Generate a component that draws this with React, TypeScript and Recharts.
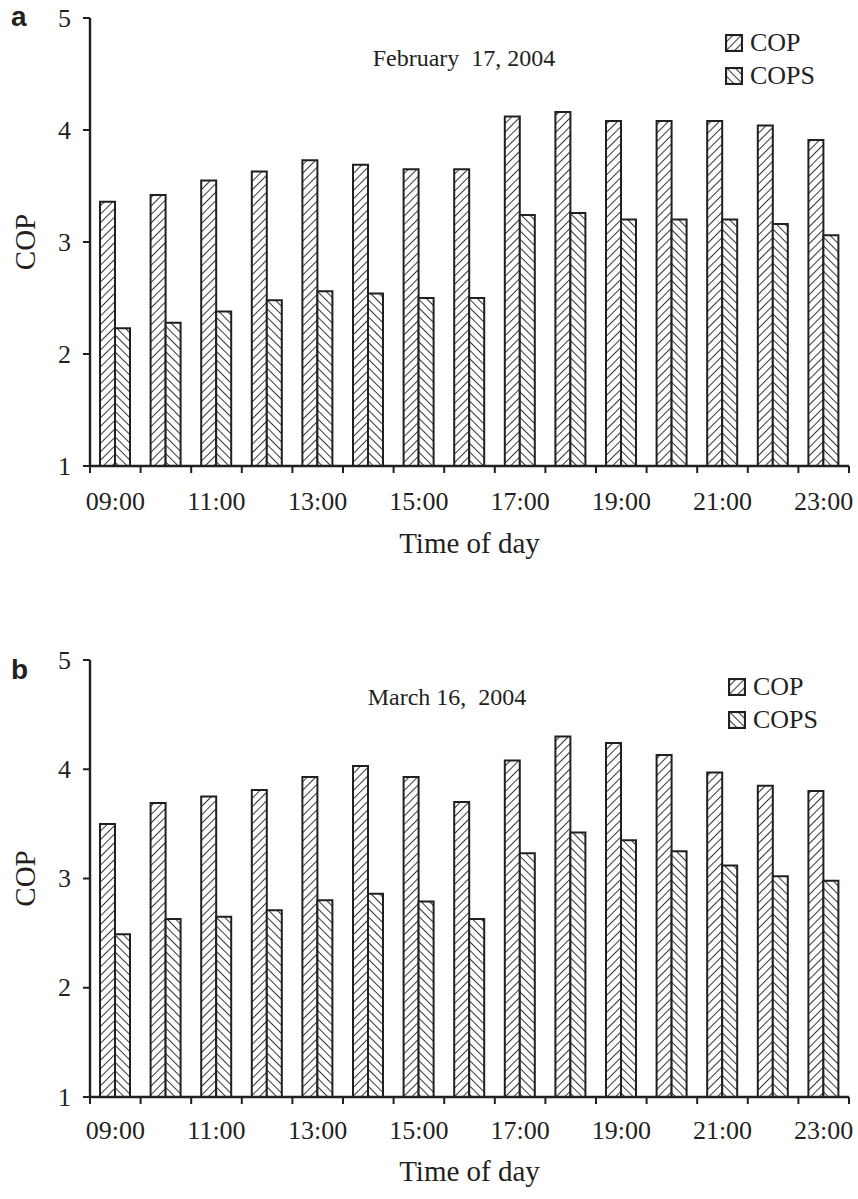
import React from 'react';
import { BarChart, Bar, XAxis, YAxis, Legend } from 'recharts';

const hours = [
  '09:00', '10:00', '11:00', '12:00', '13:00', '14:00', '15:00', '16:00',
  '17:00', '18:00', '19:00', '20:00', '21:00', '22:00', '23:00',
];
const yTicks = [1, 2, 3, 4, 5];

// panel a – February 17, 2004
const febCop = [3.36, 3.42, 3.55, 3.63, 3.73, 3.69, 3.65, 3.65, 4.12, 4.16, 4.08, 4.08, 4.08, 4.04, 3.91];
const febCops = [2.23, 2.28, 2.38, 2.48, 2.56, 2.54, 2.5, 2.5, 3.24, 3.26, 3.2, 3.2, 3.2, 3.16, 3.06];

// panel b – March 16, 2004
const marCop = [3.5, 3.69, 3.75, 3.81, 3.93, 4.03, 3.93, 3.7, 4.08, 4.3, 4.24, 4.13, 3.97, 3.85, 3.8];
const marCops = [2.49, 2.63, 2.65, 2.71, 2.8, 2.86, 2.79, 2.63, 3.23, 3.42, 3.35, 3.25, 3.12, 3.02, 2.98];

const INK = '#231f20';
const SERIF = '"Liberation Serif", "Times New Roman", serif';
const WIDTH = 858;
const LEFT = 90;
const RIGHT = 9;

const Hatch = ({ id, angle }: { id: string; angle: number }) => (
  <pattern id={id} width={6} height={6} patternUnits="userSpaceOnUse" patternTransform={`rotate(${angle})`}>
    <rect width={6} height={6} fill="#fff" />
    <line x1={0} y1={0} x2={0} y2={6} stroke={INK} strokeWidth={1.8} />
  </pattern>
);

const makeTick = (labelDy: number) => (props: any) => {
  const { x, y, payload, index } = props;
  const half = payload && payload.offset ? payload.offset : (WIDTH - LEFT - RIGHT) / hours.length / 2;
  const last = index === hours.length - 1;
  return (
    <g>
      <line x1={x - half} y1={y} x2={x - half} y2={y + 7} stroke={INK} strokeWidth={2} />
      {last && <line x1={x + half} y1={y} x2={x + half} y2={y + 7} stroke={INK} strokeWidth={2} />}
      {index % 2 === 0 && (
        <text x={x} y={y + labelDy} textAnchor="middle" fontSize={26} fontFamily={SERIF} fill={INK}>
          {payload.value}
        </text>
      )}
    </g>
  );
};

const YTick = (props: any) => {
  const { x, y, payload } = props;
  return (
    <text x={x} y={y} textAnchor="end" dominantBaseline="central" fontSize={26} fontFamily={SERIF} fill={INK}>
      {payload.value}
    </text>
  );
};

type PanelProps = {
  letter: string;
  title: string;
  titleX: number;
  titleY: number;
  cop: number[];
  cops: number[];
  top: number;
  height: number;
  marginTop: number;
  axisHeight: number;
  labelDy: number;
  titleDy: number;
  letterY: number;
  legendLeft: number;
  legendTop: number;
};

const Panel = (p: PanelProps) => {
  const data = hours.map((h, i) => ({ hour: h, cop: p.cop[i], cops: p.cops[i] }));
  const idA = `hatchA${p.letter}`;
  const idB = `hatchB${p.letter}`;

  const legendContent = () => (
    <div style={{ fontFamily: SERIF, fontSize: 26, color: INK }}>
      {[
        { name: 'COP', id: idA, angle: 45 },
        { name: 'COPS', id: idB, angle: -45 },
      ].map((it) => (
        <div key={it.name} style={{ display: 'flex', alignItems: 'center', height: 33, lineHeight: '33px', fontFamily: SERIF }}>
          <svg width={18} height={18} style={{ marginRight: 7 }}>
            <defs>
              <Hatch id={`${it.id}leg`} angle={it.angle} />
            </defs>
            <rect x={1} y={1} width={16} height={16} fill={`url(#${it.id}leg)`} stroke={INK} strokeWidth={2.2} />
          </svg>
          <span style={{ fontFamily: SERIF }}>{it.name}</span>
        </div>
      ))}
    </div>
  );

  return (
    <div style={{ position: 'absolute', left: 0, top: p.top, width: WIDTH, height: p.height }}>
      <BarChart
        width={WIDTH}
        height={p.height}
        data={data}
        margin={{ top: p.marginTop, right: RIGHT, left: 0, bottom: 0 }}
        barGap={0}
        barSize={15}
      >
        <defs>
          <Hatch id={idA} angle={45} />
          <Hatch id={idB} angle={-45} />
        </defs>
        <XAxis
          dataKey="hour"
          interval={0}
          height={p.axisHeight}
          tickSize={0}
          tickMargin={0}
          tickLine={false}
          axisLine={{ stroke: INK, strokeWidth: 2.4 }}
          tick={makeTick(p.labelDy)}
          label={{
            content: (lp: any) => {
              const vb = lp.viewBox || {};
              return (
                <text
                  x={vb.x + vb.width / 2}
                  y={vb.y + p.titleDy}
                  textAnchor="middle"
                  fontSize={29}
                  fontFamily={SERIF}
                  fill={INK}
                >
                  Time of day
                </text>
              );
            },
          }}
        />
        <XAxis xAxisId="frame" dataKey="hour" orientation="top" height={0} tick={false} tickLine={false} axisLine={{ stroke: INK, strokeWidth: 2 }} />
        <YAxis
          domain={[1, 5]}
          ticks={yTicks}
          width={LEFT}
          tickSize={7}
          tickMargin={12}
          tick={<YTick />}
          tickLine={{ stroke: INK, strokeWidth: 2 }}
          axisLine={{ stroke: INK, strokeWidth: 2.4 }}
          label={{
            content: (lp: any) => {
              const vb = lp.viewBox || {};
              const cy = vb.y + vb.height / 2;
              return (
                <text
                  x={25}
                  y={cy}
                  transform={`rotate(-90 25 ${cy})`}
                  textAnchor="middle"
                  dominantBaseline="central"
                  fontSize={29}
                  fontFamily={SERIF}
                  fill={INK}
                >
                  COP
                </text>
              );
            },
          }}
        />
        <YAxis yAxisId="frame" orientation="right" domain={[1, 5]} width={0} tick={false} tickLine={false} axisLine={{ stroke: INK, strokeWidth: 2 }} />
        <Legend
          layout="horizontal"
          verticalAlign="middle"
          align="center"
          content={legendContent}
          wrapperStyle={{ position: 'absolute', left: p.legendLeft, top: p.legendTop, width: 'auto' }}
        />
        <Bar dataKey="cop" name="COP" fill={`url(#${idA})`} stroke={INK} strokeWidth={2} isAnimationActive={false} />
        <Bar dataKey="cops" name="COPS" fill={`url(#${idB})`} stroke={INK} strokeWidth={2} isAnimationActive={false} />
      </BarChart>
      <svg
        width={WIDTH}
        height={p.height}
        style={{ position: 'absolute', left: 0, top: 0, pointerEvents: 'none' }}
      >
        <text x={11} y={p.letterY} fontSize={28} fontWeight="bold" fontFamily='"Liberation Sans", Arial, sans-serif' fill={INK}>
          {p.letter}
        </text>
        <text x={p.titleX} y={p.titleY} textAnchor="middle" fontSize={24} fontFamily={SERIF} fill={INK} style={{ whiteSpace: 'pre' }}>
          {p.title}
        </text>
      </svg>
    </div>
  );
};

export default function App() {
  return (
    <div style={{ position: 'absolute', left: 0, top: 0, width: WIDTH, height: 1199, background: '#fff' }}>
      <Panel
        letter="a"
        title="February  17, 2004"
        titleX={464}
        titleY={66}
        cop={febCop}
        cops={febCops}
        top={0}
        height={600}
        marginTop={18}
        axisHeight={134}
        labelDy={44}
        titleDy={87}
        letterY={26}
        legendLeft={725}
        legendTop={26}
      />
      <Panel
        letter="b"
        title="March 16,  2004"
        titleX={447}
        titleY={105}
        cop={marCop}
        cops={marCops}
        top={600}
        height={599}
        marginTop={60}
        axisHeight={102}
        labelDy={42}
        titleDy={84}
        letterY={79}
        legendLeft={728}
        legendTop={70}
      />
    </div>
  );
}
